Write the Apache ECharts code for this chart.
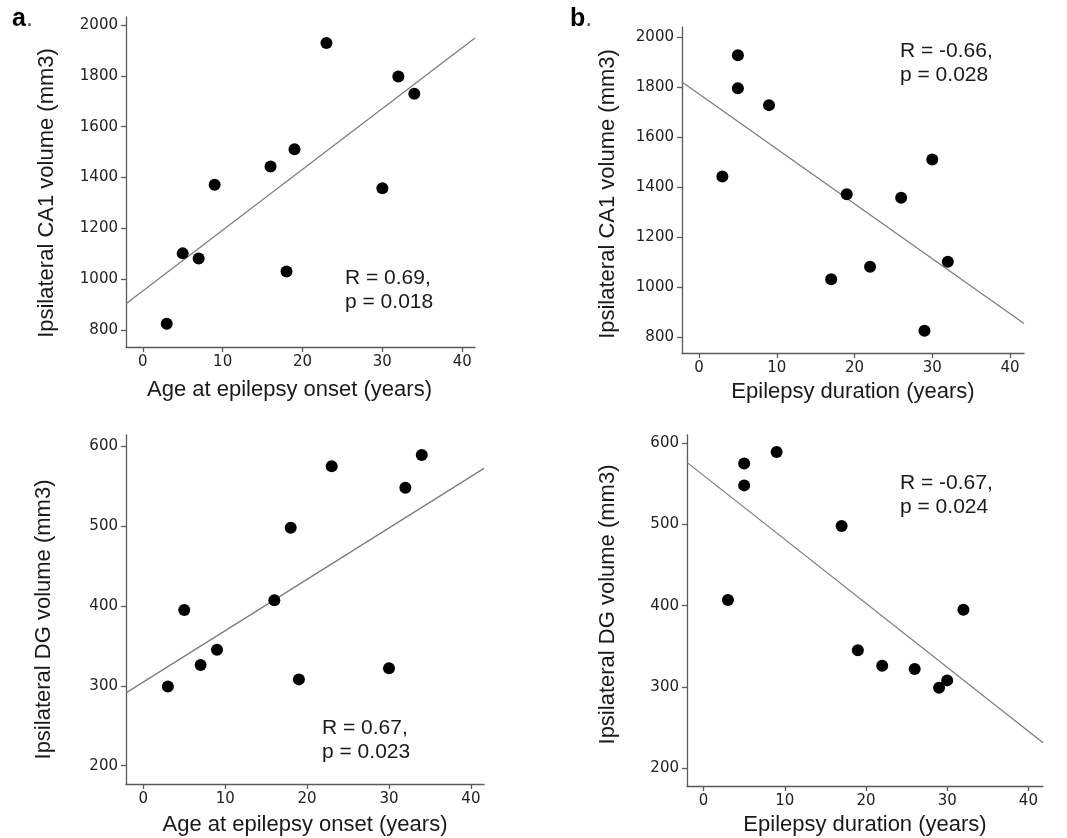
<!DOCTYPE html>
<html>
<head>
<meta charset="utf-8">
<script src="https://cdn.jsdelivr.net/npm/echarts@6/dist/echarts.min.js"></script>
<style>
  html, body { margin: 0; padding: 0; background: #fff; }
  #main { width: 1067px; height: 838px; }
</style>
</head>
<body>
<div id="main"></div>
<script>
// one entry per patient
var onsetAge = [3, 5, 7, 9, 16, 18, 19, 23, 30, 32, 34];
var duration = [29, 32, 22, 19, 3, 17, 30, 5, 26, 5, 9];
var ca1Volume = [825, 1102, 1082, 1372, 1443, 1031, 1511, 1929, 1358, 1797, 1729];
var dgVolume = [299, 395, 326, 345, 407, 498, 308, 575, 322, 548, 589];

var xTicks = [0, 10, 20, 30, 40];
var ca1Ticks = [800, 1000, 1200, 1400, 1600, 1800, 2000];
var dgTicks = [200, 300, 400, 500, 600];

var statsA = ['R = 0.69,', 'p = 0.018'];
var statsB = ['R = -0.66,', 'p = 0.028'];
var statsC = ['R = 0.67,', 'p = 0.023'];
var statsD = ['R = -0.67,', 'p = 0.024'];

var AXIS_COLOR = '#5a5a5a';
var LABEL_FONT = '"DejaVu Sans", Verdana, sans-serif';
var TEXT_FONT = '"Liberation Sans", Arial, sans-serif';

// layout of the four panels (pixels + axis extents)
var panels = [
  { grid: { left: 126, top: 17, width: 349, height: 330 }, xr: [-2.1, 41.6], yr: [734, 2031],
    xs: onsetAge, ys: ca1Volume, yTicks: ca1Ticks,
    xName: 'Age at epilepsy onset (years)', yName: 'Ipsilateral CA1 volume (mm3)',
    xGap: 32, yGap: 68, xPad: [0, 22, 0, 0], yPad: [0, 22, 0, 0],
    stats: statsA, sx: 345, sy: 266 },
  { grid: { left: 682, top: 27, width: 342, height: 326 }, xr: [-2.19, 41.8], yr: [736, 2042],
    xs: duration, ys: ca1Volume, yTicks: ca1Ticks,
    xName: 'Epilepsy duration (years)', yName: 'Ipsilateral CA1 volume (mm3)',
    xGap: 28, yGap: 63, xPad: [0, 0, 0, 0], yPad: [0, 8, 0, 0],
    stats: statsB, sx: 900, sy: 39 },
  { grid: { left: 126, top: 435, width: 358, height: 349 }, xr: [-2.11, 41.6], yr: [177, 614],
    xs: onsetAge, ys: dgVolume, yTicks: dgTicks,
    xName: 'Age at epilepsy onset (years)', yName: 'Ipsilateral DG volume (mm3)',
    xGap: 30, yGap: 71, xPad: [0, 0, 0, 0], yPad: [0, 20, 0, 0],
    stats: statsC, sx: 322, sy: 716 },
  { grid: { left: 687, top: 435, width: 356, height: 351 }, xr: [-2.04, 41.8], yr: [178, 610],
    xs: duration, ys: dgVolume, yTicks: dgTicks,
    xName: 'Epilepsy duration (years)', yName: 'Ipsilateral DG volume (mm3)',
    xGap: 28, yGap: 68, xPad: [0, 0, 0, 0], yPad: [0, 0, 0, 12],
    stats: statsD, sx: 900, sy: 471 }
];

// least squares line
function fitLine(xs, ys) {
  var n = xs.length, mx = 0, my = 0;
  for (var i = 0; i < n; i++) { mx += xs[i]; my += ys[i]; }
  mx /= n; my /= n;
  var sxy = 0, sxx = 0;
  for (var j = 0; j < n; j++) {
    sxy += (xs[j] - mx) * (ys[j] - my);
    sxx += (xs[j] - mx) * (xs[j] - mx);
  }
  var b = sxy / sxx;
  return { a: my - b * mx, b: b };
}

function plain(v) { return String(v); }

var grids = [], xAxes = [], yAxes = [], series = [], graphics = [];

panels.forEach(function (p, i) {
  grids.push(p.grid);
  xAxes.push({
    type: 'value', gridIndex: i, min: p.xr[0], max: p.xr[1],
    name: p.xName, nameLocation: 'middle', nameGap: p.xGap,
    nameTextStyle: { fontFamily: TEXT_FONT, fontSize: 22, color: '#1a1a1a', padding: p.xPad },
    axisLine: { show: true, onZero: false, lineStyle: { color: AXIS_COLOR, width: 1.3 } },
    axisTick: { show: true, length: 5, customValues: xTicks, lineStyle: { color: AXIS_COLOR, width: 1.3 } },
    axisLabel: { customValues: xTicks, formatter: plain, fontFamily: LABEL_FONT, fontSize: 15, color: '#222', margin: 8 },
    splitLine: { show: false }
  });
  yAxes.push({
    type: 'value', gridIndex: i, min: p.yr[0], max: p.yr[1],
    name: p.yName, nameLocation: 'middle', nameGap: p.yGap,
    nameTextStyle: { fontFamily: TEXT_FONT, fontSize: 22, color: '#1a1a1a', padding: p.yPad },
    axisLine: { show: true, onZero: false, lineStyle: { color: AXIS_COLOR, width: 1.3 } },
    axisTick: { show: true, length: 5, customValues: p.yTicks, lineStyle: { color: AXIS_COLOR, width: 1.3 } },
    axisLabel: { customValues: p.yTicks, formatter: plain, fontFamily: LABEL_FONT, fontSize: 15, color: '#222', margin: 8 },
    splitLine: { show: false }
  });

  var fit = fitLine(p.xs, p.ys);
  series.push({
    type: 'line', xAxisIndex: i, yAxisIndex: i, silent: true,
    showSymbol: false, symbol: 'none',
    lineStyle: { color: '#7a7a7a', width: 1.2 },
    data: [[p.xr[0], fit.a + fit.b * p.xr[0]], [p.xr[1], fit.a + fit.b * p.xr[1]]],
    z: 1
  });
  series.push({
    type: 'scatter', xAxisIndex: i, yAxisIndex: i,
    symbol: 'circle', symbolSize: 12,
    itemStyle: { color: '#000', opacity: 1 },
    data: p.xs.map(function (x, k) { return [x, p.ys[k]]; }),
    z: 3
  });

  graphics.push({
    type: 'text', left: p.sx, top: p.sy,
    style: { text: p.stats.join('\n'), font: '21px ' + TEXT_FONT, fill: '#1a1a1a', lineHeight: 24 }
  });
});

// panel letters
graphics.push({
  type: 'text', left: 12, top: 7,
  style: { text: '{b|a}{d|.}', rich: {
    b: { fontFamily: TEXT_FONT, fontWeight: 'bold', fontSize: 25, fill: '#000' },
    d: { fontFamily: TEXT_FONT, fontSize: 25, fill: '#555' } } }
});
graphics.push({
  type: 'text', left: 570, top: 7,
  style: { text: '{b|b}{d|.}', rich: {
    b: { fontFamily: TEXT_FONT, fontWeight: 'bold', fontSize: 25, fill: '#000' },
    d: { fontFamily: TEXT_FONT, fontSize: 25, fill: '#555' } } }
});

var chart = echarts.init(document.getElementById('main'), null, { renderer: 'canvas' });
chart.setOption({
  animation: false,
  backgroundColor: '#fff',
  grid: grids,
  xAxis: xAxes,
  yAxis: yAxes,
  series: series,
  graphic: graphics
});
</script>
</body>
</html>
